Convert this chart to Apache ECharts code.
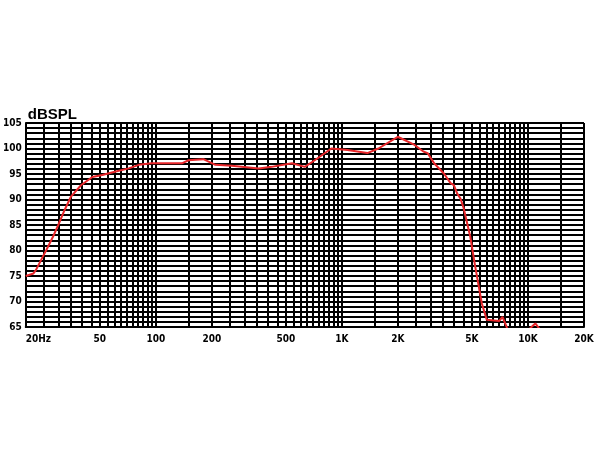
<!DOCTYPE html>
<html>
<head>
<meta charset="utf-8">
<script src="https://cdn.jsdelivr.net/npm/echarts@6/dist/echarts.min.js"></script>
<style>
html,body{margin:0;padding:0;background:#fff;}
#chart{width:600px;height:450px;}
</style>
</head>
<body>
<div id="chart"></div>
<script>
// Frequency response (Hz, dB SPL)
var freqHz = [20, 22, 22.7, 24.7, 25.8, 28, 29.9, 32.3, 34.9, 39.6, 45.6, 51.6, 60.9, 71.5, 81, 95, 138, 150, 180, 209, 256, 357, 419, 539, 632, 715, 877, 1071, 1371, 1571, 1996, 2459, 2740, 2889, 3130, 3531, 3836, 3996, 4159, 4335, 4512, 4896, 5208, 5649, 6007, 7005, 7295, 7742, 9000, 10300, 10950, 11500];
var splDb  = [75, 75.5, 76.2, 78.8, 80.1, 82.7, 85.0, 87.9, 90.5, 92.8, 94.4, 94.8, 95.5, 96.1, 96.8, 97.1, 97.1, 97.7, 97.9, 96.8, 96.6, 96.1, 96.4, 97.1, 96.4, 97.7, 100.0, 99.7, 99.1, 100.0, 102.3, 100.7, 99.4, 99.1, 97.1, 95.1, 93.2, 92.8, 91.2, 90.2, 88.3, 82.7, 76.8, 69.6, 66.4, 66.2, 67.0, 64.7, 62, 64.8, 65.7, 64.7];

// Axis tick labels
var xTickValues = [20, 50, 100, 200, 500, 1000, 2000, 5000, 10000, 20000];
var xTickLabels = ['20Hz', '50', '100', '200', '500', '1K', '2K', '5K', '10K', '20K'];
var yTickValues = [65, 70, 75, 80, 85, 90, 95, 100, 105];

// Graph-paper vertical grid: [decade start, decade end, step]
var gridDecades = [[20, 100, 5], [100, 1000, 50], [1000, 10000, 500], [10000, 20000, 5000]];

var gridFreqs = [];
gridDecades.forEach(function (d) {
  for (var f = d[0]; f <= d[1] + 1e-9; f += d[2]) {
    if (gridFreqs.indexOf(f) < 0) gridFreqs.push(f);
  }
});

var labelMap = {};
xTickValues.forEach(function (v, i) { labelMap[v] = xTickLabels[i]; });

var curve = freqHz.map(function (f, i) { return [f, splDb[i]]; });

var chart = echarts.init(document.getElementById('chart'), null, {renderer: 'canvas'});
var lblFont = '"DejaVu Sans Condensed", "DejaVu Sans", sans-serif';
chart.setOption({
  animation: false,
  backgroundColor: '#ffffff',
  grid: {left: 23, right: 16, top: 123, bottom: 123, containLabel: false},
  xAxis: {
    type: 'log',
    logBase: 10,
    min: 20,
    max: 20000,
    axisLine: {show: true, lineStyle: {color: '#000', width: 2}},
    axisTick: {show: false},
    splitLine: {show: false},
    minorSplitLine: {show: false},
    axisLabel: {
      customValues: xTickValues,
      formatter: function (v) {
        var k = Math.round(v);
        return labelMap[k] !== undefined ? labelMap[k] : '';
      },
      alignMinLabel: 'left',
      color: '#000',
      fontFamily: lblFont,
      fontWeight: 'bold',
      fontSize: 10,
      margin: 7
    }
  },
  yAxis: {
    type: 'value',
    min: 65,
    max: 105,
    interval: 5,
    name: 'dBSPL',
    nameLocation: 'end',
    nameGap: 1,
    nameTextStyle: {
      color: '#000',
      fontFamily: 'Liberation Sans',
      fontWeight: 'bold',
      fontSize: 15,
      align: 'left',
      padding: [0, 0, 0, 2]
    },
    axisLine: {show: true, lineStyle: {color: '#000', width: 2}},
    axisTick: {show: false},
    axisLabel: {
      color: '#000',
      fontFamily: lblFont,
      fontWeight: 'bold',
      fontSize: 10,
      margin: 4
    },
    splitLine: {show: true, lineStyle: {color: '#000', width: 2}},
    minorTick: {show: false, splitNumber: 5},
    minorSplitLine: {show: true, lineStyle: {color: '#000', width: 2}}
  },
  series: [
    {
      type: 'line',
      data: [],
      silent: true,
      z: 1,
      markLine: {
        silent: true,
        symbol: ['none', 'none'],
        label: {show: false},
        lineStyle: {color: '#000', width: 2, type: 'solid'},
        emphasis: {disabled: true},
        animation: false,
        data: gridFreqs.map(function (f) { return {xAxis: f}; })
      }
    },
    {
      type: 'line',
      data: curve,
      z: 5,
      clip: true,
      symbol: 'none',
      smooth: false,
      lineStyle: {color: '#e8262a', width: 2}
    }
  ]
});
</script>
</body>
</html>
